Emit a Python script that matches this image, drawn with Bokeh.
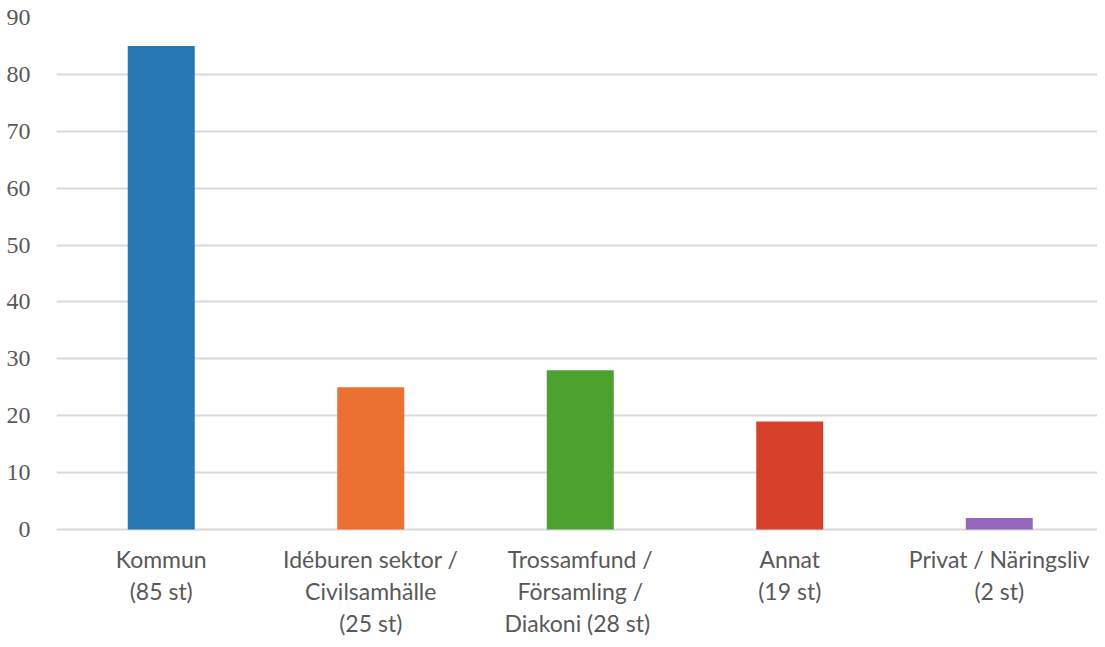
from bokeh.plotting import figure
from bokeh.models import Range1d, FixedTicker, ColumnDataSource
from bokeh.core.properties import value
from bokeh.embed import file_html
from bokeh.resources import INLINE

categories = ["Kommun\n(85 st)", "Idéburen sektor /\nCivilsamhälle\n(25 st)",
              "Trossamfund /\nFörsamling /\nDiakoni  (28 st)", "Annat\n(19 st)",
              "Privat / Näringsliv\n(2 st)"]
values = [85, 25, 28, 19, 2]
colors = ["#2777b4", "#eb7132", "#4da22f", "#d7402a", "#9467bd"]
y_ticks = [0, 10, 20, 30, 40, 50, 60, 70, 80, 90]

W, H = 1097, 639
top_border, left_border = 17, 56
px_per_unit = 512 / 90          # 0..90 spans 512 px
frame_h = H - top_border
y_start = -(frame_h - 512) / px_per_unit   # room below zero for category labels

cat_px = 209.5                  # px between category centres
x_end = (W - left_border) / cat_px - 0.5

xs = list(range(len(values)))
src = ColumnDataSource(dict(x=xs, top=values, color=colors))

p = figure(width=W, height=H, output_backend="svg", toolbar_location=None,
           x_range=Range1d(-0.5, x_end), y_range=Range1d(y_start, 90))
p.min_border_left = left_border
p.min_border_top = top_border
p.min_border_bottom = 0
p.min_border_right = 0
p.outline_line_color = None
p.background_fill_color = "white"
p.border_fill_color = "white"

p.vbar(x="x", top="top", bottom=0, width=67 / cat_px, fill_color="color",
       line_color=None, source=src)

p.xgrid.grid_line_color = None
p.ygrid.grid_line_color = "#d9d9d9"
p.ygrid.grid_line_width = 2
p.ygrid.ticker = FixedTicker(ticks=y_ticks)

p.yaxis.ticker = FixedTicker(ticks=y_ticks)
p.yaxis.axis_line_color = None
p.yaxis.major_tick_line_color = None
p.yaxis.minor_tick_line_color = None
p.yaxis.major_label_text_font = "Liberation Serif"
p.yaxis.major_label_text_font_size = "24px"
p.yaxis.major_label_text_color = "#595959"
p.yaxis.major_label_standoff = 20

p.xaxis.visible = False

# category labels, placed through the data scales just below zero
label_y = -15.5 / px_per_unit
lab_src = ColumnDataSource(dict(x=xs, y=[label_y] * len(xs), text=categories))
p.text(x="x", y="y", text="text", source=lab_src,
       text_align="center", text_baseline="top",
       text_font=value("Lato"), text_font_size="23px", text_color="#595959",
       text_line_height=1.15)

open("out.html", "w").write(file_html(p, INLINE))
